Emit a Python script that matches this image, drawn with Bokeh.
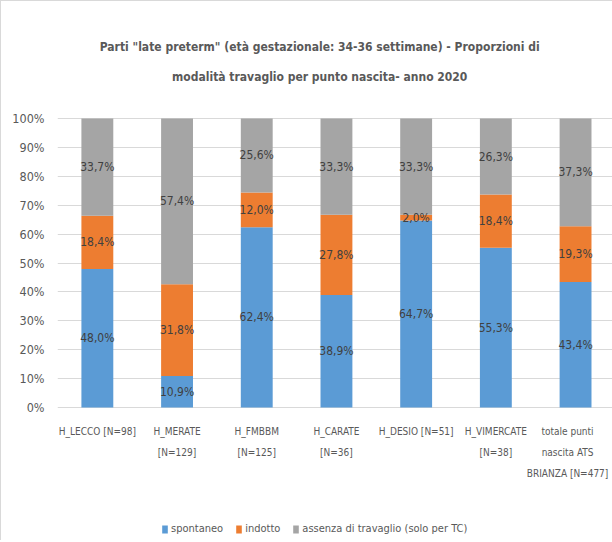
import numpy as np
from bokeh.plotting import figure
from bokeh.models import ColumnDataSource, Range1d, FixedTicker, PrintfTickFormatter, LabelSet, Legend
from bokeh.core.properties import value
from bokeh.embed import file_html
from bokeh.resources import INLINE

categories = ["H_LECCO [N=98]", "H_MERATE\n[N=129]", "H_FMBBM\n[N=125]", "H_CARATE\n[N=36]",
              "H_DESIO [N=51]", "H_VIMERCATE\n[N=38]", "totale punti\nnascita ATS\nBRIANZA [N=477]"]
spontaneo = [48.0, 10.9, 62.4, 38.9, 64.7, 55.3, 43.4]
indotto = [18.4, 31.8, 12.0, 27.8, 2.0, 18.4, 19.3]
assenza = [33.7, 57.4, 25.6, 33.3, 33.3, 26.3, 37.3]
series_names = ["spontaneo", "indotto", "assenza di travaglio (solo per TC)"]
colors = ["#5B9BD5", "#ED7D31", "#A5A5A5"]
y_ticks = list(range(0, 101, 10))
title_lines = ['Parti "late preterm" (età gestazionale: 34-36 settimane) - Proporzioni di',
               'modalità travaglio per punto nascita- anno 2020']

FONT = "DejaVu Sans Condensed"
TXT = "#595959"

raw = np.array([spontaneo, indotto, assenza])
tot = raw.sum(axis=0)
norm = raw / tot * 100
x = np.arange(len(categories))
keys = ["s", "i", "a"]
data = {"x": x}
for k, row in zip(keys, norm):
    data[k] = row
src = ColumnDataSource(data)

# frame covers the whole canvas height so that title, category labels and legend are not clipped
W, H = 612, 540
LEFT = 56
PLOT_TOP, PLOT_BOTTOM = 117, 406
per_pct = (PLOT_BOTTOM - PLOT_TOP) / 100.0
y_top = 100 + PLOT_TOP / per_pct
y_bot = -(H - PLOT_BOTTOM) / per_pct
cat_w = 79.7
x_end = -0.5 + (W - LEFT) / cat_w

p = figure(width=W, height=H, output_backend="svg", toolbar_location=None,
           x_range=Range1d(-0.5, x_end), y_range=Range1d(y_bot, y_top),
           x_axis_location=None,
           min_border_left=LEFT, min_border_right=0, min_border_top=0, min_border_bottom=0)
p.outline_line_color = None

rs = p.vbar_stack(keys, x="x", width=0.4, color=colors, line_color=None, source=src)

# data labels
lab_x, lab_y, lab_t = [], [], []
cum = np.zeros(len(categories))
for row, rawrow in zip(norm, raw):
    for j in range(len(categories)):
        lab_x.append(x[j])
        lab_y.append(cum[j] + row[j] / 2)
        lab_t.append(f"{rawrow[j]:.1f}%".replace(".", ","))
    cum = cum + row
lsrc = ColumnDataSource(dict(x=lab_x, y=lab_y, t=lab_t))
p.add_layout(LabelSet(x="x", y="y", text="t", source=lsrc, text_align="center", text_baseline="middle",
                      text_font=value(FONT), text_font_size="12px", text_color="#404040"))

# category labels (the last, widest one is nudged left so it stays inside the canvas)
nudge = [0] * (len(categories) - 1) + [-8]
csrc = ColumnDataSource(dict(x=x, t=categories, dx=nudge))
p.text(x="x", y=-(424 - PLOT_BOTTOM) / per_pct, text="t", source=csrc, x_offset="dx",
       text_align="center", text_baseline="top", text_font=value(FONT), text_font_size="10px",
       text_line_height=1.95, text_color=TXT)

# y axis
p.yaxis.ticker = FixedTicker(ticks=y_ticks)
p.yaxis.formatter = PrintfTickFormatter(format="%d%%")
p.yaxis.major_tick_line_color = None
p.yaxis.minor_tick_line_color = None
p.yaxis.axis_line_color = None
p.yaxis.major_label_text_font = FONT
p.yaxis.major_label_text_font_size = "12.5px"
p.yaxis.major_label_text_color = TXT
p.yaxis.major_label_standoff = 7

p.xgrid.grid_line_color = None
p.ygrid.grid_line_color = "#D9D9D9"

# title
tsrc = ColumnDataSource(dict(x=[2.79, 2.79],
                             y=[100 + (PLOT_TOP - 45) / per_pct, 100 + (PLOT_TOP - 75) / per_pct],
                             t=title_lines))
p.text(x="x", y="y", text="t", source=tsrc, text_align="center", text_baseline="middle",
       text_font=value(FONT), text_font_size="12px", text_font_style="bold", text_color=TXT)

legend = Legend(items=[(n, [r]) for n, r in zip(series_names, rs)], orientation="horizontal",
                location=(104, 6), border_line_color=None, background_fill_alpha=0,
                label_text_font=FONT, label_text_font_size="11px", label_text_color=TXT,
                glyph_width=7, glyph_height=10, spacing=12, label_standoff=3, padding=0, margin=0)
p.add_layout(legend, "center")

p.styles = {"border-left": "1px solid #D9D9D9", "border-top": "1px solid #D9D9D9"}

open("out.html", "w").write(file_html(p, INLINE))
